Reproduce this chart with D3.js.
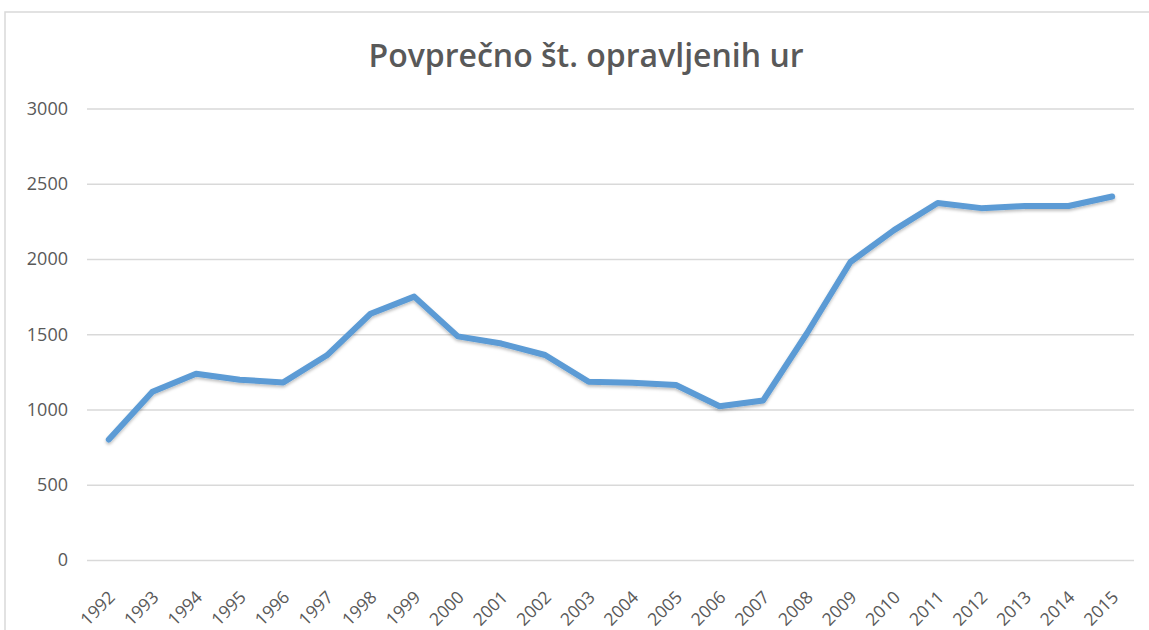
<!DOCTYPE html>
<html>
<head>
<meta charset="utf-8">
<script src="https://cdn.jsdelivr.net/npm/d3@7"></script>
<style>
    body { margin: 0; background: #fff; }
    text { font-family: 'Open Sans', sans-serif; fill: #595959; }
</style>
</head>
<body>
<script>
let page_title = 'Povprečno št. opravljenih ur'

let years = ['1992', '1993', '1994', '1995', '1996', '1997', '1998', '1999', '2000', '2001', '2002', '2003',
    '2004', '2005', '2006', '2007', '2008', '2009', '2010', '2011', '2012', '2013', '2014', '2015']
let hours = [800, 1118, 1238, 1198, 1180, 1360, 1636, 1750, 1486, 1438, 1362, 1184,
    1177, 1163, 1022, 1060, 1505, 1980, 2192, 2372, 2338, 2352, 2352, 2415]
let yTicks = [0, 500, 1000, 1500, 2000, 2500, 3000]

let width = 1149, height = 630
let plot = {left: 87, right: 1134, top: 108.5, bottom: 560}

let svg = d3.select('body').append('svg')
    .attr('width', width)
    .attr('height', height)

// chart frame (only top and left visible in the crop)
svg.append('rect')
    .attr('x', 5).attr('y', 12)
    .attr('width', width + 20).attr('height', height + 20)
    .style('fill', 'none')
    .style('stroke', '#d9d9d9')
    .style('stroke-width', 1.5)

let xScale = d3.scalePoint()
    .domain(years)
    .range([plot.left, plot.right])
    .padding(0.5)

let yScale = d3.scaleLinear()
    .domain([0, 3000])
    .range([plot.bottom, plot.top])

let yAxis = d3.axisLeft(yScale)
    .tickValues(yTicks)
    .tickFormat(d3.format('d'))
    .tickSize(-(plot.right - plot.left))
    .tickPadding(19)

let gy = svg.append('g')
    .attr('transform', 'translate(' + plot.left + ',0)')
    .call(yAxis)
gy.attr('font-size', 18).attr('font-family', "'Open Sans', sans-serif")
gy.select('.domain').remove()
gy.selectAll('line').style('stroke', '#d9d9d9').style('stroke-width', 1.3)
gy.selectAll('text').style('fill', '#595959')

let gx = svg.append('g')
gx.selectAll('text')
    .data(years)
    .join('text')
    .attr('transform', d => 'translate(' + (xScale(d) + 3) + ',' + 594 + ') rotate(-45)')
    .attr('text-anchor', 'end')
    .attr('dy', '0.35em')
    .style('font-size', '17.5px')
    .text(d => d)

let line = d3.line()
    .x((d, i) => xScale(years[i]))
    .y(d => yScale(d))

let defs = svg.append('defs')
let filter = defs.append('filter').attr('id', 'shadow').attr('x', '-10%').attr('y', '-10%')
    .attr('width', '120%').attr('height', '130%')
filter.append('feDropShadow')
    .attr('dx', 0).attr('dy', 2).attr('stdDeviation', 1.5)
    .attr('flood-color', '#000').attr('flood-opacity', 0.25)

svg.append('path')
    .datum(hours)
    .attr('d', line)
    .style('fill', 'none')
    .style('stroke', '#5b9bd5')
    .style('stroke-width', 6)
    .style('stroke-linejoin', 'round')
    .style('stroke-linecap', 'round')
    .attr('filter', 'url(#shadow)')

svg.append('text')
    .attr('x', 586)
    .attr('y', 67)
    .attr('text-anchor', 'middle')
    .style('font-size', '32px')
    .style('font-weight', 600)
    .style('fill', '#595959')
    .text(page_title)
</script>
</body>
</html>
